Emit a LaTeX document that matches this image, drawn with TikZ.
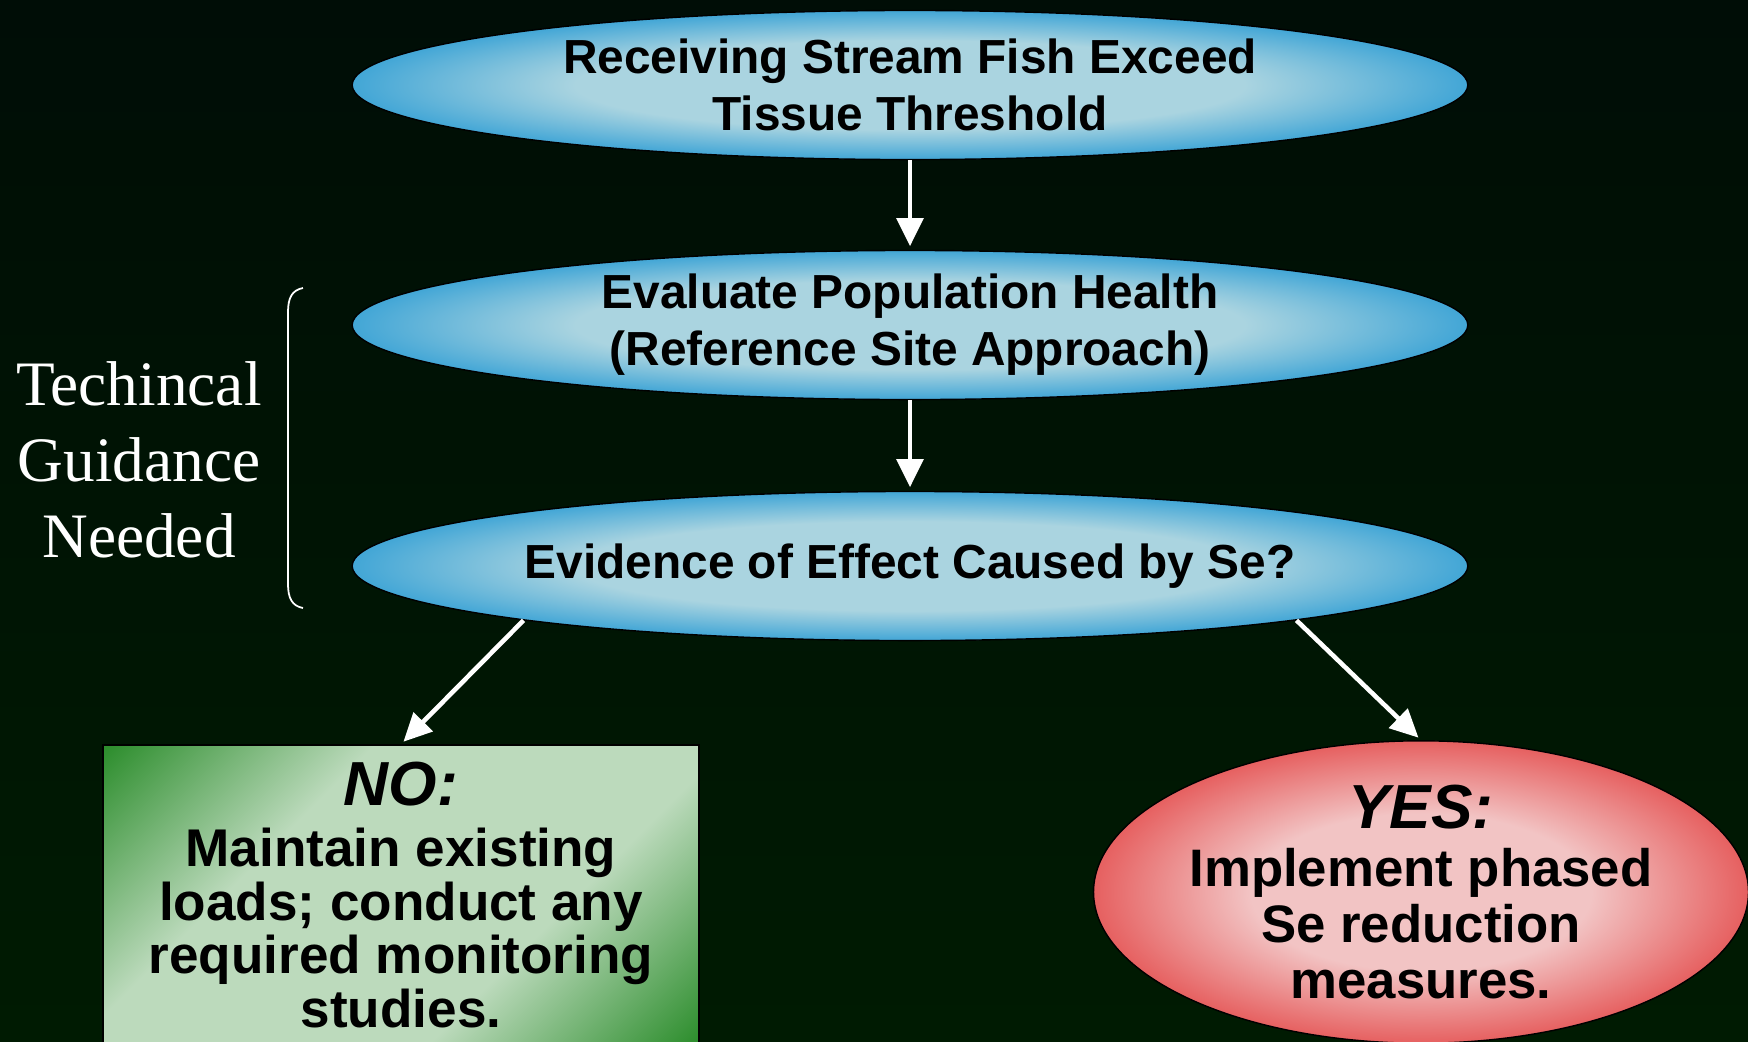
\documentclass[tikz,border=0pt]{standalone}
\usepackage{fontspec}
\setmainfont{Liberation Serif}
\setsansfont{Liberation Sans}
\usetikzlibrary{shapes.geometric,arrows.meta}
\definecolor{bgtop}{RGB}{0,13,6}
\definecolor{bgbot}{RGB}{0,27,2}
\definecolor{skyin}{RGB}{170,212,224}
\definecolor{skyout}{RGB}{66,166,214}
\definecolor{leafin}{RGB}{188,218,188}
\definecolor{leafout}{RGB}{46,142,46}
\definecolor{rosein}{RGB}{242,196,196}
\definecolor{roseout}{RGB}{230,96,96}
\pgfdeclareradialshading{skyglow}{\pgfpoint{0bp}{0bp}}{color(0bp)=(skyin); color(15bp)=(skyin); color(25bp)=(skyout); color(50bp)=(skyout)}
\pgfdeclareradialshading{roseglow}{\pgfpoint{0bp}{0bp}}{color(0bp)=(rosein); color(13bp)=(rosein); color(25bp)=(roseout); color(50bp)=(roseout)}
\pgfdeclareverticalshading{leafband}{100bp}{color(0bp)=(leafout); color(15bp)=(leafout); color(36bp)=(leafin); color(64bp)=(leafin); color(85bp)=(leafout); color(100bp)=(leafout)}

\begin{document}
\begin{tikzpicture}[x=0.01cm,y=-0.01cm,
  oval/.style={ellipse,draw=black,thin,inner sep=0pt,minimum width=11.15cm,minimum height=1.49cm,
    shading=skyglow,align=center,font=\sffamily\bfseries\fontsize{13.6}{16.2}\selectfont},
  flow/.style={draw=white,line width=1.3pt,shorten >=1pt,-{Triangle[length=8pt,width=7.5pt]}}]
\shade[top color=bgtop,bottom color=bgbot] (0,0) rectangle (1748,1041);
\useasboundingbox (0,0) rectangle (1748,1041);
% the three steps
\node[oval] (top) at (910,85) {Receiving Stream Fish Exceed\\Tissue Threshold};
\node[oval] (eval) at (910,325) {Evaluate Population Health\\(Reference Site Approach)};
\node[oval] (evid) at (910,566) {Evidence of Effect Caused by Se?};
% outcomes
\node[rectangle,draw=black,thin,minimum width=5.96cm,minimum height=3.0cm,shading=leafband,shading angle=45,
  align=center,font=\sffamily\bfseries\fontsize{15.1}{15.3}\selectfont] (no) at (401,895)
  {{\fontsize{17.7}{17.7}\selectfont\itshape NO:}\\[2pt]Maintain existing\\loads; conduct any\\required monitoring\\studies.};
\node[ellipse,draw=black,thin,inner sep=0pt,minimum width=6.35cm,minimum height=2.94cm,shading=roseglow,
  align=center,font=\sffamily\bfseries\fontsize{15}{15.9}\selectfont] (yes) at (1421,892)
  {{\fontsize{17.7}{17.7}\selectfont\itshape YES:}\\[0.6pt]Implement phased\\Se reduction\\measures.};
\draw[flow] (top) -- (eval);
\draw[flow] (eval) -- (evid);
\draw[flow] (evid.188) -- (no.north);
\draw[flow] (evid.-8) -- (yes.north);
% side note
\node[text=white,align=center,font=\fontsize{18}{21.6}\selectfont] (note) at (139,460) {Techincal\\Guidance\\Needed};
\draw[white,line width=0.5pt] (303,288) .. controls (292,290) and (288,298) .. (288,312) -- (288,584)
  .. controls (288,598) and (292,606) .. (303,608);
\end{tikzpicture}
\end{document}
